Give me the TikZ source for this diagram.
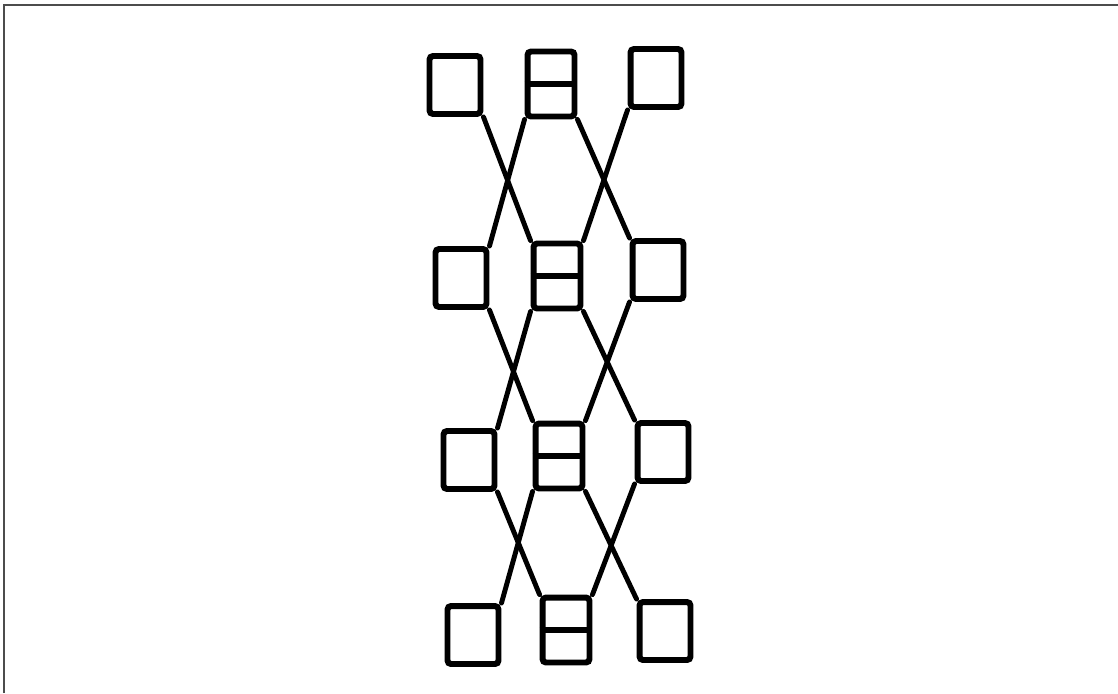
\documentclass[tikz,border=0pt]{standalone}
\definecolor{FrameClr}{rgb}{0.3,0.3,0.3}

\begin{document}
\begin{tikzpicture}[x=0.02cm,y=-0.02cm,
  box/.style={draw=black,line width=3.4pt,rounded corners=2pt,inner sep=0pt},
  single/.style={box,minimum width=1.02cm,minimum height=1.16cm},
  double/.style={box,minimum width=0.94cm,minimum height=1.3cm},
  link/.style={line width=2.8pt,line cap=round}]
\useasboundingbox (0,0) rectangle (1118,693);
\draw[FrameClr,line width=1.2pt] (4,693) -- (4,5) -- (1118,5);

% row 1
\node[single] (l1) at (455,85) {};
\node[double] (m1) at (551,84) {};
\node[single] (r1) at (656,78) {};
% row 2
\node[single] (l2) at (461,278) {};
\node[double] (m2) at (557,276) {};
\node[single] (r2) at (658,270) {};
% row 3
\node[single] (l3) at (469,460) {};
\node[double] (m3) at (559,456) {};
\node[single] (r3) at (663,452) {};
% row 4
\node[single] (l4) at (473,635) {};
\node[double] (m4) at (566,630) {};
\node[single] (r4) at (665,631) {};

% dividers of the double boxes
\draw[line width=3.4pt] (m1.west) -- (m1.east);
\draw[line width=3.4pt] (m2.west) -- (m2.east);
\draw[line width=3.4pt] (m3.west) -- (m3.east);
\draw[line width=3.4pt] (m4.west) -- (m4.east);

\draw[link] (l1.south east) -- (m2.north west);
\draw[link] (m1.south west) -- (l2.north east);
\draw[link] (m1.south east) -- (r2.north west);
\draw[link] (r1.south west) -- (m2.north east);

\draw[link] (l2.south east) -- (m3.north west);
\draw[link] (m2.south west) -- (l3.north east);
\draw[link] (m2.south east) -- (r3.north west);
\draw[link] (r2.south west) -- (m3.north east);

\draw[link] (l3.south east) -- (m4.north west);
\draw[link] (m3.south west) -- (l4.north east);
\draw[link] (m3.south east) -- (r4.north west);
\draw[link] (r3.south west) -- (m4.north east);

\end{tikzpicture}
\end{document}
